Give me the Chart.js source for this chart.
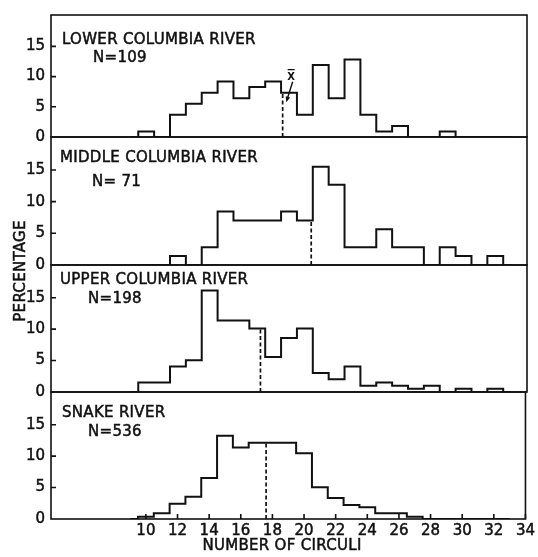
<!DOCTYPE html>
<html>
<head>
<meta charset="utf-8">
<script src="https://cdn.jsdelivr.net/npm/chart.js@4.4.1/dist/chart.umd.min.js"></script>
<style>
	html, body { margin: 0; padding: 0; background: #fff; }
	#wrap { position: relative; width: 538px; height: 557px; overflow: hidden; background: #fff; }
	#wrap canvas { position: absolute; left: 0; top: 0; }
</style>
</head>
<body>
<div id="wrap"></div>
<script>
// circuli classes, one bin per whole number (bins run n-0.5 .. n+0.5)
const bins = [9, 10, 11, 12, 13, 14, 15, 16, 17, 18, 19, 20, 21, 22, 23, 24, 25, 26, 27, 28, 29, 30, 31, 32, 33];

// percentage of fish in each class
const lowerPct  = [0, 0.92, 0, 3.67, 5.50, 7.34, 9.17, 6.42, 8.26, 9.17, 7.34, 3.67, 11.93, 6.42, 12.84, 3.67, 0.92, 1.83, 0, 0, 0.92, 0, 0, 0, 0];
const middlePct = [0, 0, 0, 1.41, 0, 2.82, 8.45, 7.04, 7.04, 7.04, 8.45, 7.04, 15.49, 12.68, 2.82, 2.82, 5.63, 2.82, 2.82, 0, 2.82, 1.41, 0, 1.41, 0];
const upperPct  = [0, 1.52, 1.52, 4.04, 5.05, 16.16, 11.36, 11.36, 10.10, 5.56, 8.59, 10.10, 3.03, 2.02, 4.04, 1.01, 1.52, 1.01, 0.51, 1.01, 0, 0.51, 0, 0.51, 0];
const snakePct  = [0, 0.37, 0.93, 2.43, 3.54, 6.53, 13.25, 11.38, 12.13, 12.13, 12.13, 10.45, 5.04, 3.36, 2.24, 1.87, 0.93, 0.93, 0.37, 0, 0, 0, 0, 0, 0];

const riverNames = ["LOWER COLUMBIA RIVER", "MIDDLE COLUMBIA RIVER", "UPPER COLUMBIA RIVER", "SNAKE RIVER"];
const sampleLabels = ["N=109", "N= 71", "N=198", "N=536"];
const meanCirculi = [18.6, 20.4, 17.2, 17.6];

const xTicks = [10, 12, 14, 16, 18, 20, 22, 24, 26, 28, 30, 32, 34];
const yTicks = [0, 5, 10, 15];
const xTitle = "NUMBER OF CIRCULI";
const yTitle = "PERCENTAGE";

// page layout
const W = 538, H = 557;
const panelEdges = [10, 137, 265, 392, 519];
const FONT = '"DejaVu Sans", sans-serif';
const INK = '#111';

Chart.defaults.font.family = FONT;
Chart.defaults.font.size = 15;
Chart.defaults.color = INK;

function lettering(ctx, text, x, y, size){
	ctx.font = size + 'px ' + FONT;
	ctx.letterSpacing = '0.3px';
	ctx.lineWidth = 0.5;
	ctx.strokeStyle = INK;
	ctx.fillText(text, x, y);
	ctx.strokeText(text, x, y);
	ctx.letterSpacing = '0px';
}

// frame, inward tick marks and the lettering of each panel
const panelDecor = {
	id: 'panelDecor',
	beforeDatasetsDraw(chart, args, opts){
		const ctx = chart.ctx;
		const a = chart.chartArea;
		const xs = chart.scales.x, ys = chart.scales.y;
		ctx.save();
		ctx.strokeStyle = INK;
		ctx.lineWidth = 1.6;
		ctx.strokeRect(a.left, a.top, a.right - a.left, a.bottom - a.top);
		ctx.beginPath();
		yTicks.forEach(v => {
			if(v === 0) return;
			const y = ys.getPixelForValue(v);
			ctx.moveTo(a.left, y);
			ctx.lineTo(a.left + 5, y);
		});
		if(opts.bottomAxis){
			xTicks.forEach(v => {
				const x = xs.getPixelForValue(v);
				ctx.moveTo(x, a.bottom);
				ctx.lineTo(x, a.bottom - 5);
			});
		}
		ctx.stroke();
		ctx.restore();
	},
	afterDraw(chart, args, opts){
		const ctx = chart.ctx;
		const a = chart.chartArea;
		ctx.save();
		ctx.fillStyle = INK;
		ctx.textBaseline = 'alphabetic';
		ctx.textAlign = 'left';
		lettering(ctx, opts.name, opts.nameX, a.top + opts.nameDy, 15);
		lettering(ctx, opts.n, opts.nX, a.top + opts.nDy, 15);

		if(opts.marker){
			// x-bar with an arrow pointing at the mean
			const mx = chart.scales.x.getPixelForValue(opts.mean);
			const my = chart.scales.y.getPixelForValue(opts.meanHeight);
			ctx.font = 'bold 10px ' + FONT;
			ctx.textAlign = 'center';
			ctx.fillText('X', mx + 8.5, my - 13);
			ctx.strokeStyle = INK;
			ctx.lineWidth = 1.4;
			ctx.beginPath();
			ctx.moveTo(mx + 5, my - 23);
			ctx.lineTo(mx + 12, my - 23);
			const sx = mx + 10, sy = my - 11, tx = mx + 3.6, ty = my + 9.5;
			ctx.moveTo(sx, sy);
			ctx.lineTo(tx + 1.2, ty - 4);
			ctx.stroke();
			const ang = Math.atan2(ty - sy, tx - sx);
			ctx.beginPath();
			ctx.moveTo(tx, ty);
			ctx.lineTo(tx - 6 * Math.cos(ang - 0.4), ty - 6 * Math.sin(ang - 0.4));
			ctx.lineTo(tx - 6 * Math.cos(ang + 0.4), ty - 6 * Math.sin(ang + 0.4));
			ctx.closePath();
			ctx.fill();
		}

		if(opts.bottomAxis){
			ctx.textAlign = 'center';
			lettering(ctx, xTitle, 282, 550, 15);
			ctx.translate(25, 271);
			ctx.rotate(-Math.PI / 2);
			lettering(ctx, yTitle, 0, 0, 15);
		}
		ctx.restore();
	}
};

const panels = [
	{ pct: lowerPct,  nameX: 62, nameDy: 28.5, nX: 93, nDy: 47, marker: true },
	{ pct: middlePct, nameX: 60, nameDy: 25,   nX: 92, nDy: 49 },
	{ pct: upperPct,  nameX: 60, nameDy: 19,   nX: 88, nDy: 38 },
	{ pct: snakePct,  nameX: 62, nameDy: 25,   nX: 88, nDy: 44 }
];

const wrap = document.getElementById('wrap');

panels.forEach((p, i) => {
	const canvas = document.createElement('canvas');
	canvas.width = W;
	canvas.height = H;
	wrap.appendChild(canvas);

	const top = panelEdges[i];
	const bottom = panelEdges[i + 1];
	const last = i === panels.length - 1;
	const mean = meanCirculi[i];
	const meanHeight = p.pct[bins.indexOf(Math.round(mean))];

	new Chart(canvas, {
		type: 'line',
		data: {
			datasets: [{
				data: bins.map((b, k) => ({ x: b, y: p.pct[k] })),
				stepped: 'middle',
				borderColor: INK,
				borderWidth: 2,
				borderJoinStyle: 'miter',
				pointRadius: 0,
				fill: false
			}, {
				data: [{ x: mean, y: 0 }, { x: mean, y: meanHeight }],
				borderColor: INK,
				borderWidth: 1.7,
				borderDash: [4, 2.5],
				pointRadius: 0,
				fill: false
			}]
		},
		options: {
			responsive: false,
			animation: false,
			events: [],
			layout: { padding: { top: top, bottom: last ? 0 : H - bottom, left: 0, right: 11 } },
			plugins: {
				legend: { display: false },
				tooltip: { enabled: false },
				panelDecor: {
					name: riverNames[i],
					n: sampleLabels[i],
					nameX: p.nameX, nameDy: p.nameDy,
					nX: p.nX, nDy: p.nDy,
					marker: !!p.marker,
					mean: mean,
					meanHeight: meanHeight,
					bottomAxis: last
				}
			},
			scales: {
				x: {
					type: 'linear',
					min: 4,
					max: 34,
					display: last,
					grid: { display: false, drawTicks: false },
					border: { display: false },
					afterBuildTicks: s => { s.ticks = xTicks.map(v => ({ value: v })); },
					afterFit: s => { s.height = last ? H - bottom : 0; },
					ticks: { padding: 3, autoSkip: false, maxRotation: 0, textStrokeColor: INK, textStrokeWidth: 0.5 }
				},
				y: {
					min: 0,
					max: 20.2,
					grid: { display: false, drawTicks: false },
					border: { display: false },
					afterBuildTicks: s => { s.ticks = yTicks.map(v => ({ value: v })); },
					afterFit: s => { s.width = 51; },
					ticks: { padding: 6, autoSkip: false, textStrokeColor: INK, textStrokeWidth: 0.5 }
				}
			}
		},
		plugins: [panelDecor]
	});
});
</script>
</body>
</html>
